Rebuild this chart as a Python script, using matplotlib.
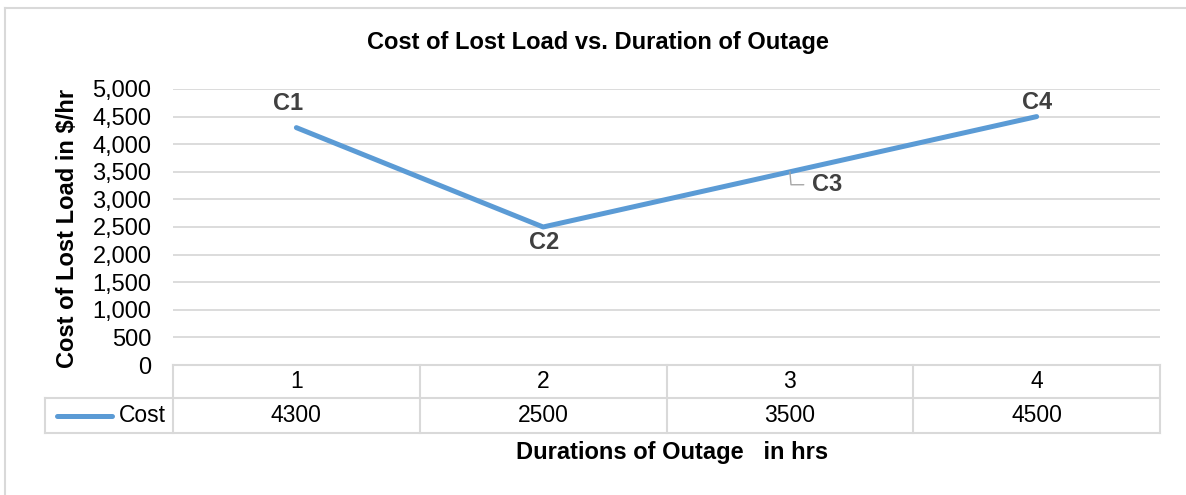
import matplotlib
matplotlib.use("Agg")
import matplotlib.pyplot as plt
import matplotlib.transforms as mtransforms
from matplotlib.lines import Line2D

plt.rcParams['font.family'] = ['Liberation Sans', 'DejaVu Sans']

# data
durations = [1, 2, 3, 4]
cost = [4300, 2500, 3500, 4500]
point_labels = ["C1", "C2", "C3", "C4"]
series_name = "Cost"
yticks = list(range(0, 5001, 500))

blue = "#5B9BD5"
grid_c = "#D9D9D9"
lbl_c = "#404040"

W, H = 1186, 495
fig = plt.figure(figsize=(W / 100, H / 100), dpi=100)

# chart-area border (only top and left edges visible in the crop)
fig.lines.append(Line2D([5 / W, 1], [1 - 7.5 / H] * 2, transform=fig.transFigure, color=grid_c, lw=1.5))
fig.lines.append(Line2D([5 / W] * 2, [0, 1 - 7.5 / H], transform=fig.transFigure, color=grid_c, lw=1.5))

ax = fig.add_axes([173 / W, 1 - 365 / H, (1160 - 173) / W, (365 - 89) / H])
ax.set_xlim(0.5, 4.5)
ax.set_ylim(0, 5000)
for s in ax.spines.values():
    s.set_visible(False)
ax.set_yticks(yticks)
ax.set_yticklabels([f"{v:,}" for v in yticks], fontsize=17)
ax.tick_params(axis='y', length=0, pad=15.5)
ax.set_xticks([])
ax.grid(axis='y', color=grid_c, lw=1.3)
ax.set_axisbelow(True)

ax.plot(durations, cost, color=blue, lw=3.6, solid_capstyle='round', zorder=3)

# data labels
lab_kw = dict(fontsize=17, fontweight='bold', color=lbl_c, textcoords='offset points')
ax.annotate(point_labels[0], (durations[0], cost[0]), xytext=(-6, 13), ha='center', va='baseline', **lab_kw)
ax.annotate(point_labels[1], (durations[1], cost[1]), xytext=(1, -16), ha='center', va='baseline', **lab_kw)
ax.annotate(point_labels[2], (durations[2], cost[2]), xytext=(16, -14), ha='left', va='baseline',
            arrowprops=dict(arrowstyle='-', color='#A6A6A6', lw=1,
                            connectionstyle='angle,angleA=180,angleB=95,rad=0',
                            shrinkA=4, shrinkB=0), **lab_kw)
ax.annotate(point_labels[3], (durations[3], cost[3]), xytext=(0, 5.5), ha='center', va='baseline', **lab_kw)

# data table below the plot
trans = mtransforms.blended_transform_factory(ax.transData, ax.transAxes)
px = 1 / (365 - 89)
r0, r1, r2 = 0, -33 * px, -68 * px
left_x = 0.5 - 128 / 246.75
tl = dict(color=grid_c, lw=1.5, transform=trans, clip_on=False)
edges = [0.5 + i for i in range(len(durations) + 1)]
ax.plot([edges[0], edges[-1]], [r0, r0], **tl)
ax.plot([left_x, edges[-1]], [r1, r1], **tl)
ax.plot([left_x, edges[-1]], [r2, r2], **tl)
for e in edges:
    ax.plot([e, e], [r0, r2], **tl)
ax.plot([left_x, left_x], [r1, r2], **tl)
for d, c in zip(durations, cost):
    ax.text(d, (r0 + r1) / 2, str(d), transform=trans, ha='center', va='center', fontsize=16.5)
    ax.text(d, (r1 + r2) / 2, str(c), transform=trans, ha='center', va='center', fontsize=16.5)
ax.plot([left_x + 0.05, left_x + 0.27], [(r1 + r2) / 2] * 2, color=blue, lw=3.6,
        solid_capstyle='round', transform=trans, clip_on=False)
ax.text(edges[0] - 0.03, (r1 + r2) / 2, series_name, transform=trans, ha='right', va='center', fontsize=16.5)

fig.text(598 / W, 1 - 43 / H, "Cost of Lost Load vs. Duration of Outage", ha='center', va='center',
         fontsize=17, fontweight='bold')
fig.text(672 / W, 1 - 452 / H, "Durations of Outage   in hrs", ha='center', va='center',
         fontsize=17, fontweight='bold')
fig.text(68 / W, 1 - 228 / H, "Cost of Lost Load in $/hr", ha='center', va='center', rotation=90,
         fontsize=17, fontweight='bold')

fig.savefig("out.png", dpi=100)
